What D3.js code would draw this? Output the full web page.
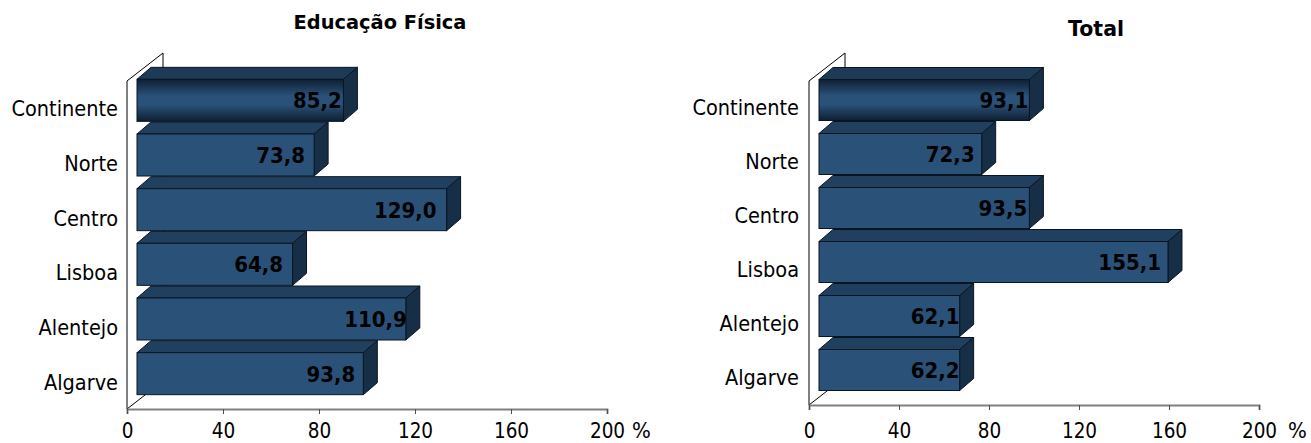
<!DOCTYPE html>
<html>
<head>
<meta charset='utf-8'>
<script src='https://d3js.org/d3.v7.min.js'></script>
<style type='text/css'>
  body { margin: 0; background: #fff; }
  svg { display: block; }
  text { font-family: 'DejaVu Sans', sans-serif; font-stretch: condensed; fill: #000; }
  .cat { font-size: 21.5px; }
  .unit { font-size: 22px; }
  .axis text { font-size: 20.5px; }
  .val { font-size: 22px; font-weight: bold; }
  .title { font-weight: bold; font-stretch: normal; }
</style>
</head>
<body>
<script type='text/javascript'>
var regions = ['Continente', 'Norte', 'Centro', 'Lisboa', 'Alentejo', 'Algarve'];
// printed labels
var educacaoFisica = [85.2, 73.8, 129.0, 64.8, 110.9, 93.8];
var total = [93.1, 72.3, 93.5, 155.1, 62.1, 62.2];
// bar lengths as drawn in the picture, they differ a little from the labels
var educacaoFisicaBars = [86.0, 73.8, 129.0, 64.8, 112.0, 94.3];
var totalBars = [93.5, 72.3, 93.5, 155.1, 62.5, 62.5];
var tickValues = [0, 40, 80, 120, 160, 200];

var w = 1311, h = 443;
var depthX = 14, depthY = 12; // bar depth
var wallX = 36, wallY = 28;   // side wall depth

var svg = d3.select('body').append('svg').attr('width', w).attr('height', h);

// shading on the first bar
var grad = svg.append('defs').append('linearGradient')
  .attr('id', 'firstBar').attr('x1', 0).attr('x2', 0).attr('y1', 0).attr('y2', 1);
grad.append('stop').attr('offset', 0).attr('stop-color', '#0e1f33');
grad.append('stop').attr('offset', 0.4).attr('stop-color', '#2a5279');
grad.append('stop').attr('offset', 0.6).attr('stop-color', '#2a5279');
grad.append('stop').attr('offset', 1).attr('stop-color', '#0e1f33');

function drawChart(opt) {
  var g = svg.append('g');
  var x = d3.scaleLinear().domain([0, 200]).range([opt.left, opt.right]);
  var y = d3.scaleBand().domain(regions).range([81, opt.bottom]);
  var shiftX = 10, shiftY = -8;
  var barH = opt.barH;

  // walls behind the bars
  g.append('path')
    .attr('d', 'M' + opt.left + ',' + opt.bottom + 'V81l' + wallX + ',-' + wallY + 'V' + (opt.bottom - wallY) + 'L' + opt.left + ',' + opt.bottom)
    .attr('fill', 'none').attr('stroke', '#000').attr('stroke-width', 1);

  var bars = g.selectAll('.bar').data(regions).enter().append('g').attr('class', 'bar');
  function top(d) { return y(d) + shiftY + (y.bandwidth() - barH) / 2; }
  var x0 = x(0) + shiftX;
  function x1(d, i) { return x(opt.bars[i]) + shiftX; }

  bars.append('path')
    .attr('d', function(d, i) {
      return 'M' + x0 + ',' + top(d) + 'l' + depthX + ',-' + depthY + 'H' + (x1(d, i) + depthX) + 'l-' + depthX + ',' + depthY + 'Z';
    })
    .attr('fill', function(d, i) { return i == 0 ? '#1d3a57' : '#21405f'; })
    .attr('stroke', '#0a1522');
  bars.append('path')
    .attr('d', function(d, i) {
      return 'M' + x1(d, i) + ',' + top(d) + 'l' + depthX + ',-' + depthY + 'v' + barH + 'l-' + depthX + ',' + depthY + 'Z';
    })
    .attr('fill', '#172e47')
    .attr('stroke', '#0a1522');
  bars.append('rect')
    .attr('x', x0)
    .attr('y', top)
    .attr('width', function(d, i) { return x1(d, i) - x0; })
    .attr('height', barH)
    .attr('fill', function(d, i) { return i == 0 ? 'url(#firstBar)' : '#2a5279'; })
    .attr('stroke', '#0a1522');

  bars.append('text')
    .attr('class', 'val')
    .attr('text-anchor', 'end')
    .attr('x', function(d, i) { return x1(d, i) - opt.labelGap[i]; })
    .attr('y', function(d) { return top(d) + barH / 2 + 8; })
    .text(function(d, i) { return opt.values[i].toFixed(1).replace('.', ','); });

  g.selectAll('.cat').data(regions).enter().append('text')
    .attr('class', 'cat')
    .attr('text-anchor', 'end')
    .attr('x', opt.left - opt.catGap)
    .attr('y', function(d) { return top(d) + barH / 2 + opt.catDy; })
    .text(function(d) { return d; });

  var axis = g.append('g')
    .attr('class', 'axis')
    .attr('transform', 'translate(0,' + opt.bottom + ')')
    .call(d3.axisBottom(x).tickValues(tickValues).tickSize(5).tickSizeOuter(5));
  axis.attr('font-family', null).attr('font-size', null);
  axis.select('.domain').attr('stroke', '#808080').attr('stroke-width', 2);
  axis.selectAll('.tick line').attr('stroke', '#505050');
  axis.selectAll('text').attr('fill', '#000').attr('dy', 0).attr('y', 438 - opt.bottom);

  g.append('text').attr('class', 'unit')
    .attr('x', opt.unitX).attr('y', 438).text('%');
  g.append('text').attr('class', 'title')
    .attr('text-anchor', 'middle')
    .style('font-size', opt.titleSize + 'px')
    .attr('x', opt.titleX).attr('y', opt.titleY).text(opt.title);
}

drawChart({
  title: 'Educação Física', titleX: 380, titleY: 29, titleSize: 19.4,
  values: educacaoFisica, bars: educacaoFisicaBars, left: 127, right: 607, bottom: 409, barH: 42,
  labelGap: [1.5, 9, 10, 9.5, -1, 8], catGap: 9, catDy: 16, unitX: 632
});
drawChart({
  title: 'Total', titleX: 1096, titleY: 36, titleSize: 20.5,
  values: total, bars: totalBars, left: 809, right: 1259, bottom: 405, barH: 41,
  labelGap: [1, 7, 2, 7, 0, 0], catGap: 10, catDy: 15, unitX: 1288
});
</script>
</body>
</html>
